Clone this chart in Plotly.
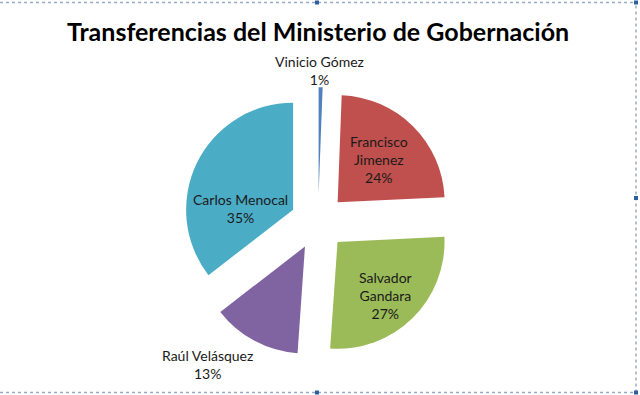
import plotly.graph_objects as go

# Data (shares)
labels = ["Vinicio Gómez", "Francisco Jimenez", "Salvador Gandara", "Raúl Velásquez", "Carlos Menocal"]
values = [0.6, 23.6, 26.8, 13.4, 35.4]
label_lines = [["Vinicio Gómez"], ["Francisco", "Jimenez"], ["Salvador", "Gandara"],
               ["Raúl Velásquez"], ["Carlos Menocal"]]
colors = ["#4F81BD", "#C0504D", "#9BBB59", "#8064A2", "#4BACC6"]
title_text = "Transferencias del Ministerio de Gobernación"

# label block centres (pixels from top-left), one per slice
label_pos = [(319, 70), (379, 160), (385, 295), (207, 364), (240, 208)]

W, H = 640, 395
FONT = "Lato, 'Open Sans', sans-serif"

def px_x(x):
    return x / W

def px_y(y):
    return 1 - y / H

total = sum(values)

fig = go.Figure(go.Pie(
    labels=labels,
    values=values,
    textinfo="none",
    marker=dict(colors=colors, line=dict(width=0)),
    pull=0.26,
    sort=False,
    direction="clockwise",
    rotation=0,
    domain=dict(x=[0.2, 0.794], y=[0.0967, 0.7793]),
    showlegend=False,
    hoverinfo="label+percent",
))

annotations = []
for lines, v, (lx, ly) in zip(label_lines, values, label_pos):
    txt = "<br>".join(lines + [f"{round(100 * v / total)}%"])
    annotations.append(dict(
        text=txt, x=px_x(lx), y=px_y(ly), xref="paper", yref="paper",
        xanchor="center", yanchor="middle", showarrow=False, align="center",
        font=dict(family=FONT, size=14, color="#1a1a1a"),
    ))

frame_col = "#97abc6"
shapes = [
    dict(type="line", xref="paper", yref="paper", x0=0, x1=px_x(636), y0=px_y(2.5), y1=px_y(2.5),
         line=dict(color=frame_col, width=1.5, dash="dot")),
    dict(type="line", xref="paper", yref="paper", x0=px_x(636), x1=px_x(636), y0=px_y(392.5), y1=px_y(2.5),
         line=dict(color=frame_col, width=1.5, dash="dot")),
    dict(type="line", xref="paper", yref="paper", x0=0, x1=px_x(636), y0=px_y(392.5), y1=px_y(392.5),
         line=dict(color=frame_col, width=1.5, dash="dot")),
]
for (hx, hy) in [(317, 2.5), (636, 2.5), (636, 198), (317, 392.5), (636, 392.5)]:
    shapes.append(dict(type="rect", xref="paper", yref="paper",
                       x0=px_x(hx - 2), x1=px_x(hx + 2), y0=px_y(hy + 2), y1=px_y(hy - 2),
                       line=dict(width=0), fillcolor="#2f5e9e"))

fig.update_layout(
    width=W, height=H,
    margin=dict(l=0, r=0, t=0, b=0, pad=0, autoexpand=False),
    paper_bgcolor="white",
    plot_bgcolor="white",
    title=dict(text="<b>" + title_text + "</b>", x=0.497, xanchor="center",
               y=1 - 32 / H, yanchor="middle",
               font=dict(family=FONT, size=25, color="black")),
    shapes=shapes,
    annotations=annotations,
)

fig.write_html("out.html", config={"displayModeBar": False},
               post_script="document.body.style.margin='0';")
